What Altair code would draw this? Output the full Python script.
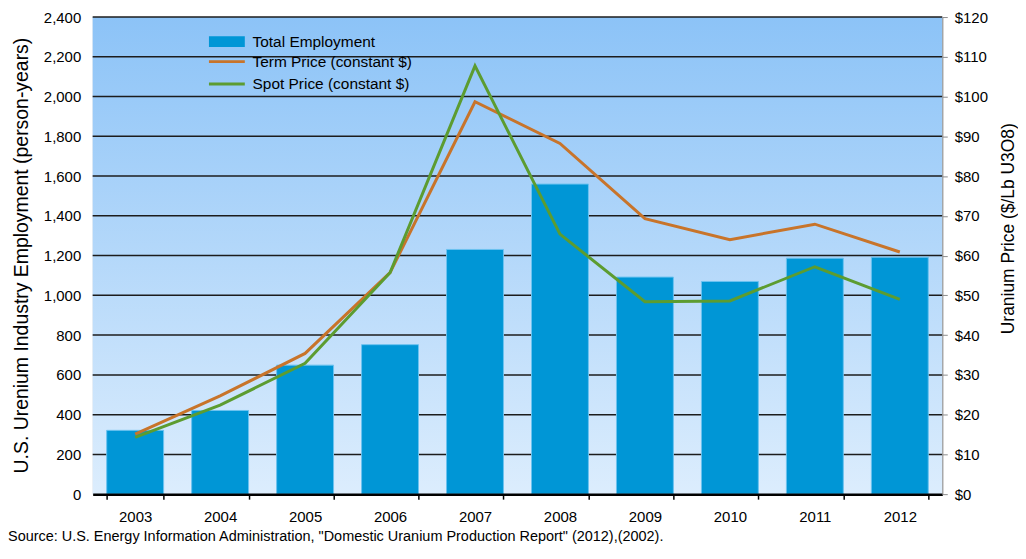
import altair as alt
import pandas as pd

years = ["2003", "2004", "2005", "2006", "2007", "2008", "2009", "2010", "2011", "2012"]
employment = [321, 421, 649, 752, 1231, 1560, 1092, 1070, 1187, 1192]
term_price = [15.1, 24.7, 35.4, 55.7, 98.7, 88.2, 69.3, 64.0, 67.9, 60.9]
spot_price = [14.3, 22.4, 32.9, 55.7, 107.7, 65.4, 48.4, 48.6, 57.2, 49.0]
emp_ticks = list(range(0, 2401, 200))
price_ticks = list(range(0, 121, 10))

emp_name = "Total Employment"
term_name = "Term Price (constant $)"
spot_name = "Spot Price (constant $)"
source_text = 'Source: U.S. Energy Information Administration, "Domestic Uranium Production Report" (2012),(2002).'

bars_df = pd.DataFrame({"year": years, "employment": employment, "series": emp_name})
lines_df = pd.DataFrame({
    "year": years + years,
    "price": term_price + spot_price,
    "series": [term_name] * len(years) + [spot_name] * len(years),
})
grid_df = pd.DataFrame({"v": emp_ticks[1:]})

W, H = 853, 479
FONT = "Liberation Sans"
TICK_FS = 15

x_enc = alt.X(
    "year:N",
    sort=years,
    scale=alt.Scale(paddingInner=0.33, paddingOuter=0.165),
    axis=alt.Axis(
        title=None, labelAngle=0, tickBand="extent", domainColor="black", domainWidth=2.5,
        tickColor="black", tickWidth=1.5, tickSize=5, labelFontSize=TICK_FS, labelPadding=10,
        labelColor="black", labelFont=FONT, zindex=1,
    ),
)

background = alt.Chart(pd.DataFrame({"a": [0]})).mark_rect(
    color=alt.Gradient(
        gradient="linear", x1=0, y1=0, x2=0, y2=1,
        stops=[alt.GradientStop(offset=0, color="#8cc3f7"),
               alt.GradientStop(offset=1, color="#dcedfd")],
    )
).encode(x=alt.value(0), x2=alt.value(W), y=alt.value(0), y2=alt.value(H))

grid = alt.Chart(grid_df).mark_rule(color="#1c1c1c", strokeWidth=1.5).encode(
    y=alt.Y("v:Q", scale=alt.Scale(domain=[0, 2400], nice=False), axis=None),
)

bars = alt.Chart(bars_df).mark_bar(stroke="#6cc3f0", strokeWidth=1).encode(
    x=x_enc,
    y=alt.Y(
        "employment:Q",
        scale=alt.Scale(domain=[0, 2400], nice=False),
        axis=alt.Axis(
            values=emp_ticks, format=",.0f", domain=False, ticks=False, grid=False,
            labelFontSize=TICK_FS, labelPadding=12, labelColor="black", labelFont=FONT,
            title="U.S. Urenium Industry Employment (person-years)",
            titleFontSize=19.5, titleFontWeight="normal", titleFont=FONT, titleColor="black",
            titleAngle=270, titleX=-71, titleY=239, titleAlign="center", titleBaseline="middle",
        ),
    ),
    fill=alt.Fill(
        "series:N",
        scale=alt.Scale(domain=[emp_name], range=["#0096d6"]),
        legend=alt.Legend(
            title=None, orient="none", legendX=127, legendY=17,
            symbolType="M-3,-0.9H3V0.9H-3Z", symbolSize=144, symbolStrokeWidth=0,
            labelFontSize=15.5, labelFont=FONT, labelColor="black", labelOffset=18,
            labelLimit=400, padding=0,
        ),
    ),
)

lines = alt.Chart(lines_df).mark_line(strokeWidth=3).encode(
    x=x_enc,
    y=alt.Y(
        "price:Q",
        scale=alt.Scale(domain=[0, 120], nice=False),
        axis=alt.Axis(
            orient="right", values=price_ticks, labelExpr="'$' + datum.value",
            grid=False, domainColor="#8c8c8c", domainWidth=1, tickColor="#8c8c8c", tickSize=5,
            labelFontSize=TICK_FS, labelPadding=7, labelColor="black", labelFont=FONT, zindex=1,
            title="Uranium Price ($/Lb U3O8)",
            titleFontSize=17.5, titleFontWeight="normal", titleFont=FONT, titleColor="black",
            titleAngle=270, titleX=66, titleY=212, titleAlign="center", titleBaseline="middle",
        ),
    ),
    stroke=alt.Stroke(
        "series:N",
        sort=[term_name, spot_name],
        scale=alt.Scale(domain=[term_name, spot_name], range=["#c8742a", "#5c9c30"]),
        legend=alt.Legend(
            title=None, orient="none", legendX=127, legendY=37,
            symbolType="M-3,0H3", symbolSize=144, symbolStrokeWidth=3,
            labelFontSize=15.5, labelFont=FONT, labelColor="black", labelOffset=18,
            labelLimit=400, rowPadding=5.5, padding=0,
        ),
    ),
)

source = alt.Chart(pd.DataFrame({"t": [source_text]})).mark_text(
    align="left", baseline="middle", fontSize=14.5, font=FONT, color="black"
).encode(
    text="t:N",
    x=alt.value(-85),
    y=alt.value(522),
)

chart = alt.layer(background, grid, bars, lines, source).resolve_scale(y="independent").properties(
    width=W, height=H,
    autosize="none",
    padding={"left": 85, "top": 8, "right": 76, "bottom": 60},
).configure_view(stroke="transparent").configure(background="white")

chart.save("out.html", embed_options={"renderer": "svg", "actions": False})
